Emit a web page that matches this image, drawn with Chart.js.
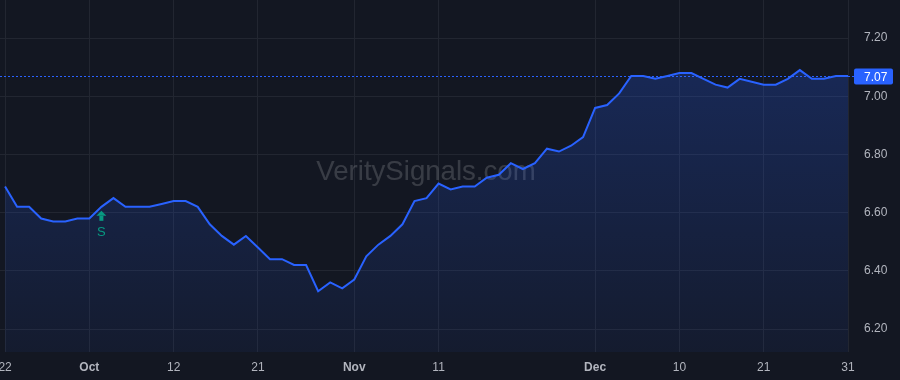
<!DOCTYPE html>
<html>
<head>
<meta charset="utf-8">
<script src="https://cdn.jsdelivr.net/npm/chart.js@4.4.1/dist/chart.umd.min.js"></script>
<style>
  html, body { margin: 0; padding: 0; background: #131722; }
  canvas { display: block; }
</style>
</head>
<body>
<canvas id="chart" width="900" height="380"></canvas>
<script>
// prezzi giornalieri (un punto per barra)
const values = [
  6.69, 6.62, 6.62, 6.58, 6.57, 6.57, 6.58, 6.58, 6.62, 6.65,
  6.62, 6.62, 6.62, 6.63, 6.64, 6.64, 6.62, 6.56, 6.52, 6.49,
  6.52, 6.48, 6.44, 6.44, 6.42, 6.42, 6.33, 6.36, 6.34, 6.37,
  6.45, 6.49, 6.52, 6.56, 6.64, 6.65, 6.70, 6.68, 6.69, 6.69,
  6.72, 6.73, 6.77, 6.75, 6.77, 6.82, 6.81, 6.83, 6.86, 6.96,
  6.97, 7.01, 7.07, 7.07, 7.06, 7.07, 7.08, 7.08, 7.06, 7.04,
  7.03, 7.06, 7.05, 7.04, 7.04, 7.06, 7.09, 7.06, 7.06, 7.07, 7.07
];
// etichette asse x (indice barra -> testo)
const tickPos  = [0, 7, 14, 21, 29, 36, 49, 56, 63, 70];
const tickText = ['22', 'Oct', '12', '21', 'Nov', '11', 'Dec', '10', '21', '31'];
const monthTicks = ['Oct', 'Nov', 'Dec'];
const yTicks = [6.20, 6.40, 6.60, 6.80, 7.00, 7.20];
const lastPrice = 7.07;
const signalIndex = 8;
const signalText = 'S';
const watermark = 'VeritySignals.com';

const ctx = document.querySelector('#chart');
const BLUE = '#2962ff';
const GREEN = '#089981';
const GRID = '#222631';
const TXT = '#b2b5be';

const extras = {
  id: 'extras',
  beforeDraw(chart) {
    const c = chart.ctx;
    c.save();
    c.fillStyle = '#131722';
    c.fillRect(0, 0, chart.width, chart.height);
    c.restore();
  },
  beforeDatasetsDraw(chart) {
    const c = chart.ctx, a = chart.chartArea;
    c.save();
    c.font = '27.6px "Liberation Sans", Arial, sans-serif';
    c.fillStyle = 'rgba(255,255,255,0.16)';
    c.textAlign = 'center';
    c.textBaseline = 'middle';
    c.fillText(watermark, (a.left + a.right) / 2 + 2, (a.top + a.bottom) / 2 - 4);
    c.restore();
  },
  afterDraw(chart) {
    const c = chart.ctx, a = chart.chartArea;
    const x = chart.scales.x, y = chart.scales.y;
    // linea tratteggiata dell'ultimo prezzo
    const py = Math.round(y.getPixelForValue(lastPrice)) + 0.5;
    c.save();
    c.strokeStyle = BLUE;
    c.lineWidth = 1;
    c.setLineDash([2, 2]);
    c.beginPath();
    c.moveTo(a.left, py);
    c.lineTo(a.right + 6, py);
    c.stroke();
    c.setLineDash([]);
    c.fillStyle = BLUE;
    c.beginPath();
    c.roundRect(a.right + 6, py - 8, 39, 16, 2);
    c.fill();
    c.fillStyle = '#ffffff';
    c.font = '12px "Liberation Sans", Arial, sans-serif';
    c.textAlign = 'left';
    c.textBaseline = 'middle';
    c.fillText(lastPrice.toFixed(2), a.right + 16, py + 1);

    // freccia del segnale
    const sx = x.getPixelForValue(signalIndex);
    const sy = y.getPixelForValue(values[signalIndex]) + 4;
    c.fillStyle = GREEN;
    c.beginPath();
    c.moveTo(sx, sy);
    c.lineTo(sx - 5, sy + 5);
    c.lineTo(sx + 5, sy + 5);
    c.closePath();
    c.fill();
    c.fillRect(sx - 2, sy + 5, 4, 5);
    c.font = '13px "Liberation Sans", Arial, sans-serif';
    c.textAlign = 'center';
    c.fillText(signalText, sx, sy + 22);
    c.restore();
  }
};

const chart = new Chart(ctx, {
  type: 'line',
  data: {
    datasets: [{
      data: values.map((v, i) => ({ x: i, y: v })),
      borderColor: BLUE,
      borderWidth: 2,
      pointRadius: 0,
      tension: 0,
      fill: 'start',
      backgroundColor: (context) => {
        const a = context.chart.chartArea;
        if (!a) return 'rgba(41,98,255,0.15)';
        const g = context.chart.ctx.createLinearGradient(0, a.top, 0, a.bottom);
        g.addColorStop(0, 'rgba(41,98,255,0.28)');
        g.addColorStop(1, 'rgba(41,98,255,0.06)');
        return g;
      }
    }]
  },
  options: {
    responsive: false,
    animation: false,
    layout: { padding: 0 },
    plugins: { legend: { display: false }, tooltip: { enabled: false } },
    scales: {
      x: {
        type: 'linear',
        min: -0.42,
        max: 70,
        grid: { color: GRID, drawTicks: false },
        border: { display: false },
        afterBuildTicks: (s) => { s.ticks = tickPos.map(v => ({ value: v })); },
        afterFit: (s) => { s.height = 28; s.paddingLeft = 0; s.paddingRight = 0; },
        ticks: {
          autoSkip: false,
          maxRotation: 0,
          padding: 8,
          color: TXT,
          font: (c) => {
            const t = tickText[tickPos.indexOf(c.tick ? c.tick.value : -1)];
            return { family: '"Liberation Sans", Arial, sans-serif', size: 12, weight: monthTicks.includes(t) ? 'bold' : 'normal' };
          },
          callback: (v) => {
            const k = tickPos.indexOf(v);
            return k >= 0 ? tickText[k] : '';
          }
        }
      },
      y: {
        position: 'right',
        min: 6.121,
        max: 7.331,
        grid: { color: GRID, drawTicks: false },
        border: { display: false },
        afterBuildTicks: (s) => { s.ticks = yTicks.map(v => ({ value: v })); },
        afterFit: (s) => { s.width = 52; s.paddingTop = 0; s.paddingBottom = 0; },
        ticks: {
          padding: 16,
          color: TXT,
          font: { family: '"Liberation Sans", Arial, sans-serif', size: 12 },
          callback: (v) => v.toFixed(2)
        }
      }
    }
  },
  plugins: [extras]
});
</script>
</body>
</html>
